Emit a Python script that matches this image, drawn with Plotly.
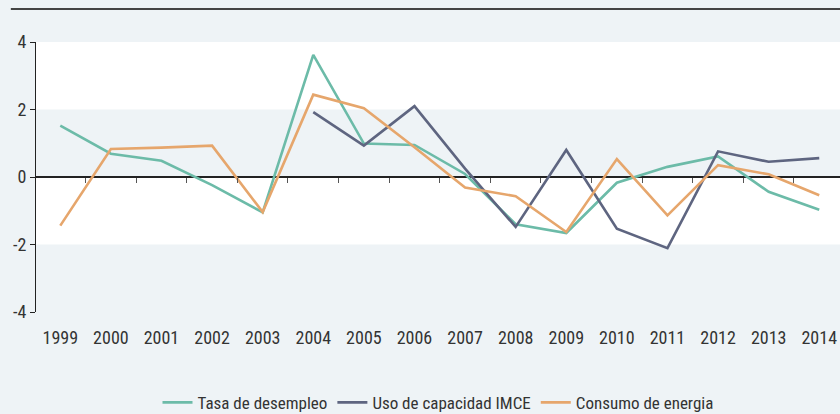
import plotly.graph_objects as go

years = [str(y) for y in range(1999, 2015)]
desempleo = [1.52, 0.69, 0.48, -0.24, -1.05, 3.62, 0.99, 0.95, 0.09, -1.40, -1.66, -0.17, 0.30, 0.61, -0.44, -0.97]
imce = [None, None, None, None, None, 1.92, 0.93, 2.10, 0.25, -1.48, 0.80, -1.53, -2.11, 0.76, 0.45, 0.56]
energia = [-1.44, 0.83, 0.87, 0.93, -1.04, 2.44, 2.04, 0.88, -0.31, -0.57, -1.63, 0.53, -1.14, 0.35, 0.08, -0.54]
ytick_vals = [-4, -2, 0, 2, 4]
ytick_text = ["-4", "-2", "0", "2", "4"]

series = [
    ("Tasa de desempleo", desempleo, "#6cbba8"),
    ("Uso de capacidad IMCE", imce, "#5e6580"),
    ("Consumo de energia", energia, "#e6a66c"),
]

FONT = "Liberation Sans Narrow, Roboto Condensed, Roboto, sans-serif"
BG = "#eef3f6"
TXT = "#333"

idx = list(range(len(years)))
fig = go.Figure()
for name, vals, col in series:
    fig.add_trace(go.Scatter(x=idx, y=vals, name=name, mode="lines",
                             line=dict(color=col, width=2.6)))

xr = [-0.48, 15.41]
fig.update_layout(
    width=840, height=414,
    margin=dict(l=36, r=0, t=42, b=102, autoexpand=False),
    paper_bgcolor=BG, plot_bgcolor="white",
    font=dict(family=FONT, size=18, color=TXT),
    showlegend=True,
    legend=dict(orientation="h", x=0.5, xanchor="center", yref="container",
                y=0.027, yanchor="middle",
                itemwidth=30, font=dict(size=17, color=TXT), bgcolor="rgba(0,0,0,0)"),
    xaxis=dict(range=xr, tickvals=idx, ticktext=years, showgrid=False, zeroline=False,
               showline=False, ticks="", ticklabelstandoff=13, fixedrange=True),
    xaxis2=dict(range=xr, overlaying="x", anchor="free", position=0.5,
                tickvals=[i + 0.5 for i in idx[:-1]], ticks="outside", ticklen=5,
                tickcolor="#555", showticklabels=False, showgrid=False, zeroline=False,
                showline=False),
    yaxis=dict(range=[-4, 4], tickvals=ytick_vals, ticktext=ytick_text, showgrid=False,
               zeroline=True, zerolinecolor="#222", zerolinewidth=1.5,
               showline=True, linecolor="#222", linewidth=1.2,
               ticks="outside", ticklen=5, tickcolor="#222", fixedrange=True),
    shapes=[
        dict(type="rect", xref="x domain", yref="y", x0=0, x1=1, y0=0, y1=2,
             fillcolor=BG, line_width=0, layer="below"),
        dict(type="rect", xref="x domain", yref="y", x0=0, x1=1, y0=-4, y1=-2,
             fillcolor=BG, line_width=0, layer="below"),
        dict(type="line", xref="paper", yref="paper", x0=-0.0313, x1=1,
             y0=1.122, y1=1.122, line=dict(color="#444", width=2)),
    ],
)
# invisible trace for xaxis2 so the ticks are shown
fig.add_trace(go.Scatter(x=[0], y=[None], xaxis="x2", showlegend=False, hoverinfo="skip"))

fig.write_html("out.html", config={"displayModeBar": False},
               post_script="document.body.style.margin='0';document.body.style.background='%s';" % BG)
